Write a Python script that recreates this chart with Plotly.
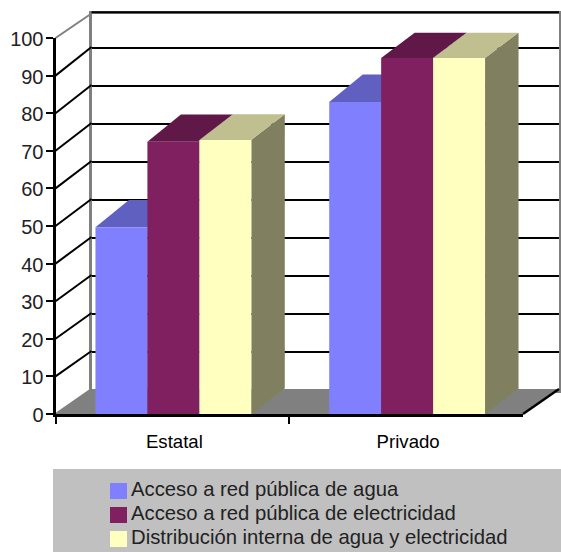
import plotly.graph_objects as go

categories = ["Estatal", "Privado"]
series_names = ["Acceso a red pública de agua", "Acceso a red pública de electricidad", "Distribución interna de agua y electricidad"]
agua = [49.65, 83.0]
electricidad = [72.4, 94.7]
distribucion = [72.9, 94.7]
series_values = [agua, electricidad, distribucion]
y_ticks = list(range(0, 101, 10))

front_colors = ["#8080FF", "#802060", "#FFFFC0"]
top_colors = ["#6060C0", "#601848", "#BFBF90"]
side_colors = ["#6060C0", "#601848", "#808060"]
# drawn depth of each bar's top in px, as the reference's renderer rounded it
depth_px = [[27.3, 27.3], [27.4, 25.3], [25.7, 25.3]]

W, H = 561, 552
FX0, FX1, FY0, FY1 = 55.5, 523, 414, 38      # front plane, px
BX0, BX1, BY0, BY1 = 91.5, 558.5, 389.5, 13.5  # back wall, px
WALL_PX = 3.8                                  # px per value unit on the back wall
SX = 2 / (FX1 - FX0)      # category units per px
SY = 100 / (FY0 - FY1)    # value units per px
BAR_W = 2 / 3 / 3
BAR_SHIFT = 1 * SX
DX = 33.5 * SX
WX, WY = 36 * SX, 25 * SY
FONT = "Liberation Sans"
LEG_X = 91
LEG_TOPS = [468, 492, 516]
SWATCHES = [(110, 127, 483, 499), (110, 127, 507, 523), (110, 127, 531, 547)]

def xdom(a, b):
    return [a / W, b / W]

def ydom(bottom, top):
    return [1 - bottom / H, 1 - top / H]

fig = go.Figure()

def poly(xs, ys, color):
    fig.add_trace(go.Scatter(x=xs, y=ys, mode="lines", fill="toself", fillcolor=color,
                             line=dict(width=0, color=color), xaxis="x2", yaxis="y2",
                             showlegend=False, hoverinfo="skip"))

def seg(xs, ys, color, width):
    fig.add_trace(go.Scatter(x=xs, y=ys, mode="lines", line=dict(color=color, width=width),
                             xaxis="x2", yaxis="y2", showlegend=False, hoverinfo="skip"))

# invisible anchor trace so that the back wall's axes exist
fig.add_trace(go.Scatter(x=[0], y=[0], mode="markers", marker=dict(opacity=0), xaxis="x", yaxis="y",
                         showlegend=False, hoverinfo="skip"))

# floor
poly([-0.5, 1.5, 1.5 + WX, -0.5 + WX], [0, 0, WY, WY], "#808080")
# side wall lines
for v in y_ticks:
    c = "#808080" if v in (0, 100) else "black"
    back_v = min(WY + v * WALL_PX * SY, (FY0 - BY1) * SY)
    seg([-0.5, -0.5 + WX], [v, back_v], c, 2)
seg([1.5, 1.5 + WX], [0, WY], "black", 2.5)
top_v = (FY0 - BY1 + 1.3) * SY
seg([-0.5 + WX, 1.5 + WX], [top_v, top_v], "black", 2)

# depth faces of bars
for j, vals in enumerate(series_values):
    for i, v in enumerate(vals):
        l = i + (j - 1.5) * BAR_W + BAR_SHIFT
        r = l + BAR_W
        d = depth_px[j][i] * SY
        poly([r, r + DX, r + DX, r], [0, d, v + d, v], side_colors[j])
        poly([l, r, r + DX, l + DX], [v, v, v + d, v + d], top_colors[j])

# front faces
for j, vals in enumerate(series_values):
    fig.add_trace(go.Bar(x=categories, y=vals, name=series_names[j], marker=dict(color=front_colors[j], line=dict(width=0)),
                         width=BAR_W, offset=(j - 1.5) * BAR_W + BAR_SHIFT,
                         xaxis="x3", yaxis="y3", showlegend=False, cliponaxis=False))
# legend entries, one small legend per row so the rows sit as tightly as the reference's
legend_ids = ["legend", "legend2", "legend3"]
for j in range(3):
    fig.add_trace(go.Scatter(x=[None], y=[None], mode="markers", name=series_names[j], legend=legend_ids[j],
                             marker=dict(symbol="square", size=2, color=front_colors[j]), xaxis="x3", yaxis="y3"))

shapes = [dict(type="rect", xref="paper", yref="paper", x0=53 / W, x1=1, y0=0, y1=1 - 469 / H,
               fillcolor="#C0C0C0", line=dict(width=0), layer="below")]
for j, (a, b, c, d) in enumerate(SWATCHES):
    shapes.append(dict(type="rect", xref="paper", yref="paper", x0=a / W, x1=b / W, y0=1 - d / H, y1=1 - c / H,
                       fillcolor=front_colors[j], line=dict(width=0), layer="below"))

legends = {}
for j, lid in enumerate(legend_ids):
    legends[lid] = dict(x=LEG_X / W, y=1 - LEG_TOPS[j] / H, xanchor="left", yanchor="top", bgcolor="rgba(0,0,0,0)",
                        font=dict(size=20.3, color="#222222"), itemclick=False, itemdoubleclick=False)

fig.update_layout(
    width=W, height=H, margin=dict(l=0, r=0, t=0, b=0, pad=0, autoexpand=False),
    paper_bgcolor="white", plot_bgcolor="rgba(0,0,0,0)",
    font=dict(family=FONT, color="#111111"),
    barmode="group", bargap=1 / 3, bargroupgap=0,
    shapes=shapes,
    xaxis=dict(domain=xdom(BX0, BX1), range=[0, 1], showgrid=False, zeroline=False, showticklabels=False, ticks="",
               showline=True, mirror=True, linecolor="#808080", linewidth=3, anchor="y", fixedrange=True),
    yaxis=dict(domain=ydom(BY0, BY1), range=[0, (BY0 - BY1) / WALL_PX], tickvals=y_ticks, showgrid=True,
               gridcolor="black", gridwidth=2,
               zeroline=False, showticklabels=False, ticks="", showline=True, mirror=True,
               linecolor="#808080", linewidth=3, anchor="x", fixedrange=True),
    # full-canvas hidden axes on the same scale as the front plane, for the depth faces
    xaxis2=dict(domain=[0, 1], range=[-0.5 - FX0 * SX, -0.5 + (W - FX0) * SX], visible=False, anchor="y2", fixedrange=True),
    yaxis2=dict(domain=[0, 1], range=[-(H - FY0) * SY, FY0 * SY], visible=False, anchor="x2", fixedrange=True),
    xaxis3=dict(domain=xdom(FX0, FX1), type="category", categoryorder="array", categoryarray=categories,
                range=[-0.5, 1.5], tickson="boundaries", ticks="outside", ticklen=7, tickwidth=2, tickcolor="black",
                showline=True, linecolor="black", linewidth=3, showgrid=False, zeroline=False, anchor="y3",
                tickfont=dict(size=18.6, color="black"), ticklabelstandoff=9, ticklabelshift=2, fixedrange=True),
    yaxis3=dict(domain=ydom(FY0, FY1), range=[0, 100], tickvals=y_ticks, ticks="outside", ticklen=7, tickwidth=2,
                tickcolor="black", showline=True, linecolor="black", linewidth=3, showgrid=False, zeroline=False,
                anchor="x3", tickfont=dict(size=20, color="#222222"), ticklabelstandoff=-2, ticklabelshift=1,
                fixedrange=True),
    **legends,
)

fig.write_html("out.html", config={"displayModeBar": False},
               post_script="document.body.style.margin='0';document.body.style.overflow='hidden';")
